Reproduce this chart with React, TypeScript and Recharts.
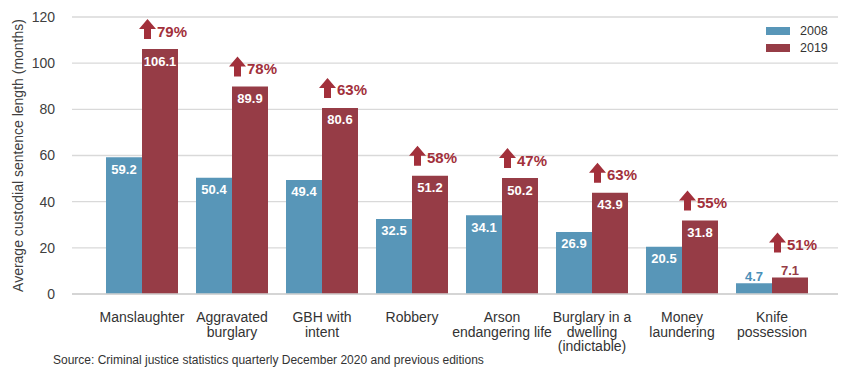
import { Bar, BarChart, CartesianGrid, Label, LabelList, Legend, XAxis, YAxis } from "recharts";

const categories = [
  "Manslaughter",
  "Aggravated\nburglary",
  "GBH with\nintent",
  "Robbery",
  "Arson\nendangering life",
  "Burglary in a\ndwelling\n(indictable)",
  "Money\nlaundering",
  "Knife\npossession",
];
const values2008 = [59.2, 50.4, 49.4, 32.5, 34.1, 26.9, 20.5, 4.7];
const values2019 = [106.1, 89.9, 80.6, 51.2, 50.2, 43.9, 31.8, 7.1];
const increases = [79, 78, 63, 58, 47, 63, 55, 51];
const yTicks = [0, 20, 40, 60, 80, 100, 120];

const BLUE = "#5896b8";
const RED = "#963c46";
const ARROW_RED = "#a2303b";

const data = categories.map((name, i) => ({
  name,
  y2008: values2008[i],
  y2019: values2019[i],
  increase: increases[i],
}));

const CategoryTick = ({ x, y, payload }: any) => {
  const lines = String(payload.value).split("\n");
  return (
    <text x={x} y={y} textAnchor="middle" fontSize={14} fill="#333">
      {lines.map((line, i) => (
        <tspan key={i} x={x} dy={i === 0 ? 20 : 14.5}>
          {line}
        </tspan>
      ))}
    </text>
  );
};

// value labels: inside the bar top in white, above it in the bar colour when the bar is short
const valueLabel = (color: string) => (props: any) => {
  const { x, y, width, value } = props;
  const cx = x + width / 2;
  if (value < 10) {
    return (
      <text x={cx} y={y - 7} textAnchor="middle" dominantBaseline="central" fontSize={13} fontWeight="bold" fill={color}>
        {value.toFixed(1)}
      </text>
    );
  }
  return (
    <text x={cx} y={y + 12} textAnchor="middle" dominantBaseline="central" fontSize={13} fontWeight="bold" fill="#fff">
      {value.toFixed(1)}
    </text>
  );
};

const IncreaseMarker = (props: any) => {
  const { x, y, index, value } = props;
  const small = data[index].y2019 < 10;
  const bottom = y - (small ? 25 : 10);
  const top = bottom - 20;
  const cx = x + 5.5;
  const path = `M${cx - 3.5},${bottom} L${cx - 3.5},${top + 10} L${cx - 8.5},${top + 10} L${cx},${top} L${cx + 8.5},${top + 10} L${cx + 3.5},${top + 10} L${cx + 3.5},${bottom} Z`;
  return (
    <g>
      <path d={path} fill={ARROW_RED} />
      <text x={x + 15} y={bottom - 8} dominantBaseline="central" fontSize={15} fontWeight="bold" fill={ARROW_RED}>
        {`${value}%`}
      </text>
    </g>
  );
};

const LegendBox = () => (
  <div style={{ fontSize: 12.5, color: "#333" }}>
    {[
      { label: "2008", color: BLUE },
      { label: "2019", color: RED },
    ].map((item) => (
      <div key={item.label} style={{ display: "flex", alignItems: "center", height: 17 }}>
        <div style={{ width: 24, height: 8, background: item.color }} />
        <span style={{ marginLeft: 10 }}>{item.label}</span>
      </div>
    ))}
  </div>
);

const App = () => {
  return (
    <div
      style={{
        position: "absolute",
        left: 0,
        top: 0,
        width: 850,
        height: 380,
        background: "#fff",
        fontFamily: "'Liberation Sans', Arial, sans-serif",
      }}
    >
      <BarChart
        width={850}
        height={380}
        data={data}
        margin={{ top: 17, right: 12, left: 12, bottom: 56 }}
        barCategoryGap="10%"
        barGap={0}
      >
        <CartesianGrid vertical={false} stroke="#d9d9d9" strokeWidth={1.3} />
        <XAxis
          dataKey="name"
          height={30}
          interval={0}
          padding={{ left: 25, right: 21 }}
          axisLine={{ stroke: "#d0d0d0", strokeWidth: 1.3 }}
          tickLine={false}
          tick={<CategoryTick />}
        />
        <YAxis
          width={60}
          domain={[0, 120]}
          ticks={yTicks}
          axisLine={false}
          tickLine={false}
          tickMargin={11}
          tick={{ fontSize: 14, fill: "#404040" }}
        >
          <Label
            content={({ viewBox }: any) => {
              const lx = viewBox.x + 6;
              const ly = viewBox.y + viewBox.height / 2;
              return (
                <text
                  x={lx}
                  y={ly}
                  transform={`rotate(-90, ${lx}, ${ly})`}
                  textAnchor="middle"
                  dominantBaseline="central"
                  fontSize={14}
                  fill="#404040"
                >
                  Average custodial sentence length (months)
                </text>
              );
            }}
          />
        </YAxis>
        <Legend
          layout="vertical"
          align="center"
          verticalAlign="middle"
          content={<LegendBox />}
          wrapperStyle={{ left: 766, top: 22, width: 80, height: 34 }}
        />
        <Bar dataKey="y2008" name="2008" fill={BLUE} isAnimationActive={false}>
          <LabelList dataKey="y2008" content={valueLabel("#4a8fb8")} />
        </Bar>
        <Bar dataKey="y2019" name="2019" fill={RED} isAnimationActive={false}>
          <LabelList dataKey="y2019" content={valueLabel(RED)} />
          <LabelList dataKey="increase" content={<IncreaseMarker />} />
        </Bar>
      </BarChart>
      <div style={{ position: "absolute", left: 53, top: 353, fontSize: 12, color: "#333" }}>
        Source: Criminal justice statistics quarterly December 2020 and previous editions
      </div>
    </div>
  );
};

export default App;
